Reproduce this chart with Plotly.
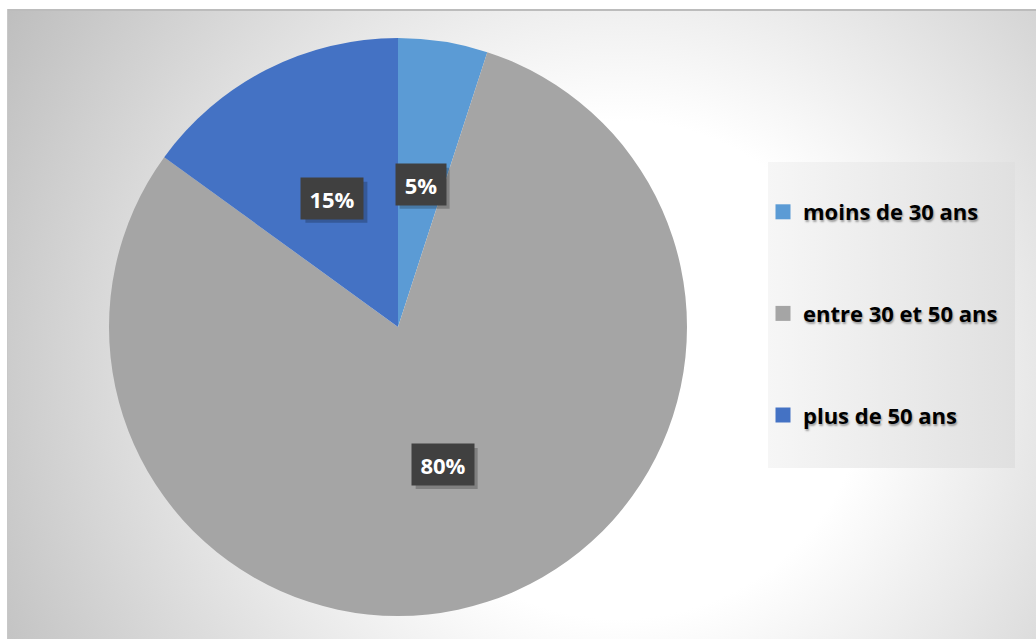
import base64
import math
import plotly.graph_objects as go

# ---- data ----
categories = ["moins de 30 ans", "entre 30 et 50 ans", "plus de 50 ans"]
values = [5, 80, 15]
colors = ["#5B9BD5", "#A5A5A5", "#4472C4"]

# ---- geometry (pixels) ----
W, H = 1036, 639
CX, CY, R = 398, 327, 289
FONT = "Open Sans"

# background: radial gradient chart area + legend panel, as an SVG image
ax0, ay0 = 7, 9
BW, BH = W - ax0, H - ay0
svg = f'''<svg xmlns="http://www.w3.org/2000/svg" width="{BW}" height="{BH}" viewBox="0 0 {BW} {BH}">
<defs>
<radialGradient id="g" gradientUnits="userSpaceOnUse" cx="613" cy="361" r="711">
<stop offset="0.35" stop-color="#ffffff"/>
<stop offset="1" stop-color="#bebebe"/>
</radialGradient>
<linearGradient id="lg" x1="0" y1="0" x2="1" y2="0">
<stop offset="0" stop-color="#f6f6f6"/>
<stop offset="1" stop-color="#e0e0e0"/>
</linearGradient>
</defs>
<rect x="0" y="0" width="{BW}" height="{BH}" fill="url(#g)"/>
<rect x="761" y="153" width="247" height="306" fill="url(#lg)"/>
<line x1="0" y1="1" x2="{BW}" y2="1" stroke="#bcbcbc" stroke-width="2"/>
<line x1="0.5" y1="0" x2="0.5" y2="{BH}" stroke="#c8c8c8" stroke-width="1"/>
</svg>'''
src = "data:image/svg+xml;base64," + base64.b64encode(svg.encode()).decode()

fig = go.Figure()
fig.add_trace(go.Pie(
    labels=categories, values=values, sort=False, direction="clockwise",
    rotation=0, marker=dict(colors=colors, line=dict(width=0)),
    textinfo="none", showlegend=False,
    domain=dict(x=[(CX - R) / W, (CX + R) / W], y=[1 - (CY + R) / H, 1 - (CY - R) / H]),
))

# legend via marker-only traces so items can be spaced
for i, (c, col) in enumerate(zip(categories, colors)):
    fig.add_trace(go.Scatter(
        x=[None], y=[None], mode="markers", name=c, legendgroup=f"g{i}",
        marker=dict(symbol="square", size=15, color=col), hoverinfo="skip",
    ))

# data labels (positions derived from the values)
annotations = []
shapes = []
total = sum(values)
cum = 0
for v in values:
    mid = (cum + v / 2) / total * 2 * math.pi
    cum += v
    px = CX + 0.5 * R * math.sin(mid)
    py = CY - 0.5 * R * math.cos(mid)
    txt = f"{v}%"
    w = 26 + 12 * len(txt)
    hgt = 41
    # soft drop shadow behind the label box
    shapes.append(dict(type="rect", xref="paper", yref="paper", layer="above",
                       xsizemode="pixel", ysizemode="pixel",
                       xanchor=px / W, yanchor=1 - py / H,
                       x0=-w / 2 + 4, x1=w / 2 + 4, y0=-hgt / 2 - 4, y1=hgt / 2 - 4,
                       fillcolor="rgba(0,0,0,0.22)", line=dict(width=0)))
    annotations.append(dict(text=txt, x=px / W, y=1 - py / H, xref="paper", yref="paper",
                            showarrow=False, width=w, height=hgt, borderpad=0,
                            xanchor="center", yanchor="middle", bgcolor="#404040",
                            font=dict(family=FONT, size=22, color="white", weight="bold")))

fig.update_layout(
    width=W, height=H, margin=dict(l=0, r=0, t=0, b=0),
    paper_bgcolor="white", plot_bgcolor="rgba(0,0,0,0)",
    xaxis=dict(visible=False), yaxis=dict(visible=False),
    images=[dict(source=src, xref="paper", yref="paper", x=ax0 / W, y=1 - ay0 / H,
                 sizex=BW / W, sizey=BH / H, xanchor="left", yanchor="top",
                 sizing="stretch", layer="below")],
    annotations=annotations,
    shapes=shapes,
    legend=dict(
        x=763 / W, y=1 - 313.5 / H, xanchor="left", yanchor="middle",
        bgcolor="rgba(0,0,0,0)", borderwidth=0, tracegroupgap=70, itemsizing="trace",
        font=dict(family=FONT, size=22, color="black", weight="bold",
                  shadow="1px 2px 2px rgba(0,0,0,0.35)"),
    ),
)

fig.write_html("out.html")
